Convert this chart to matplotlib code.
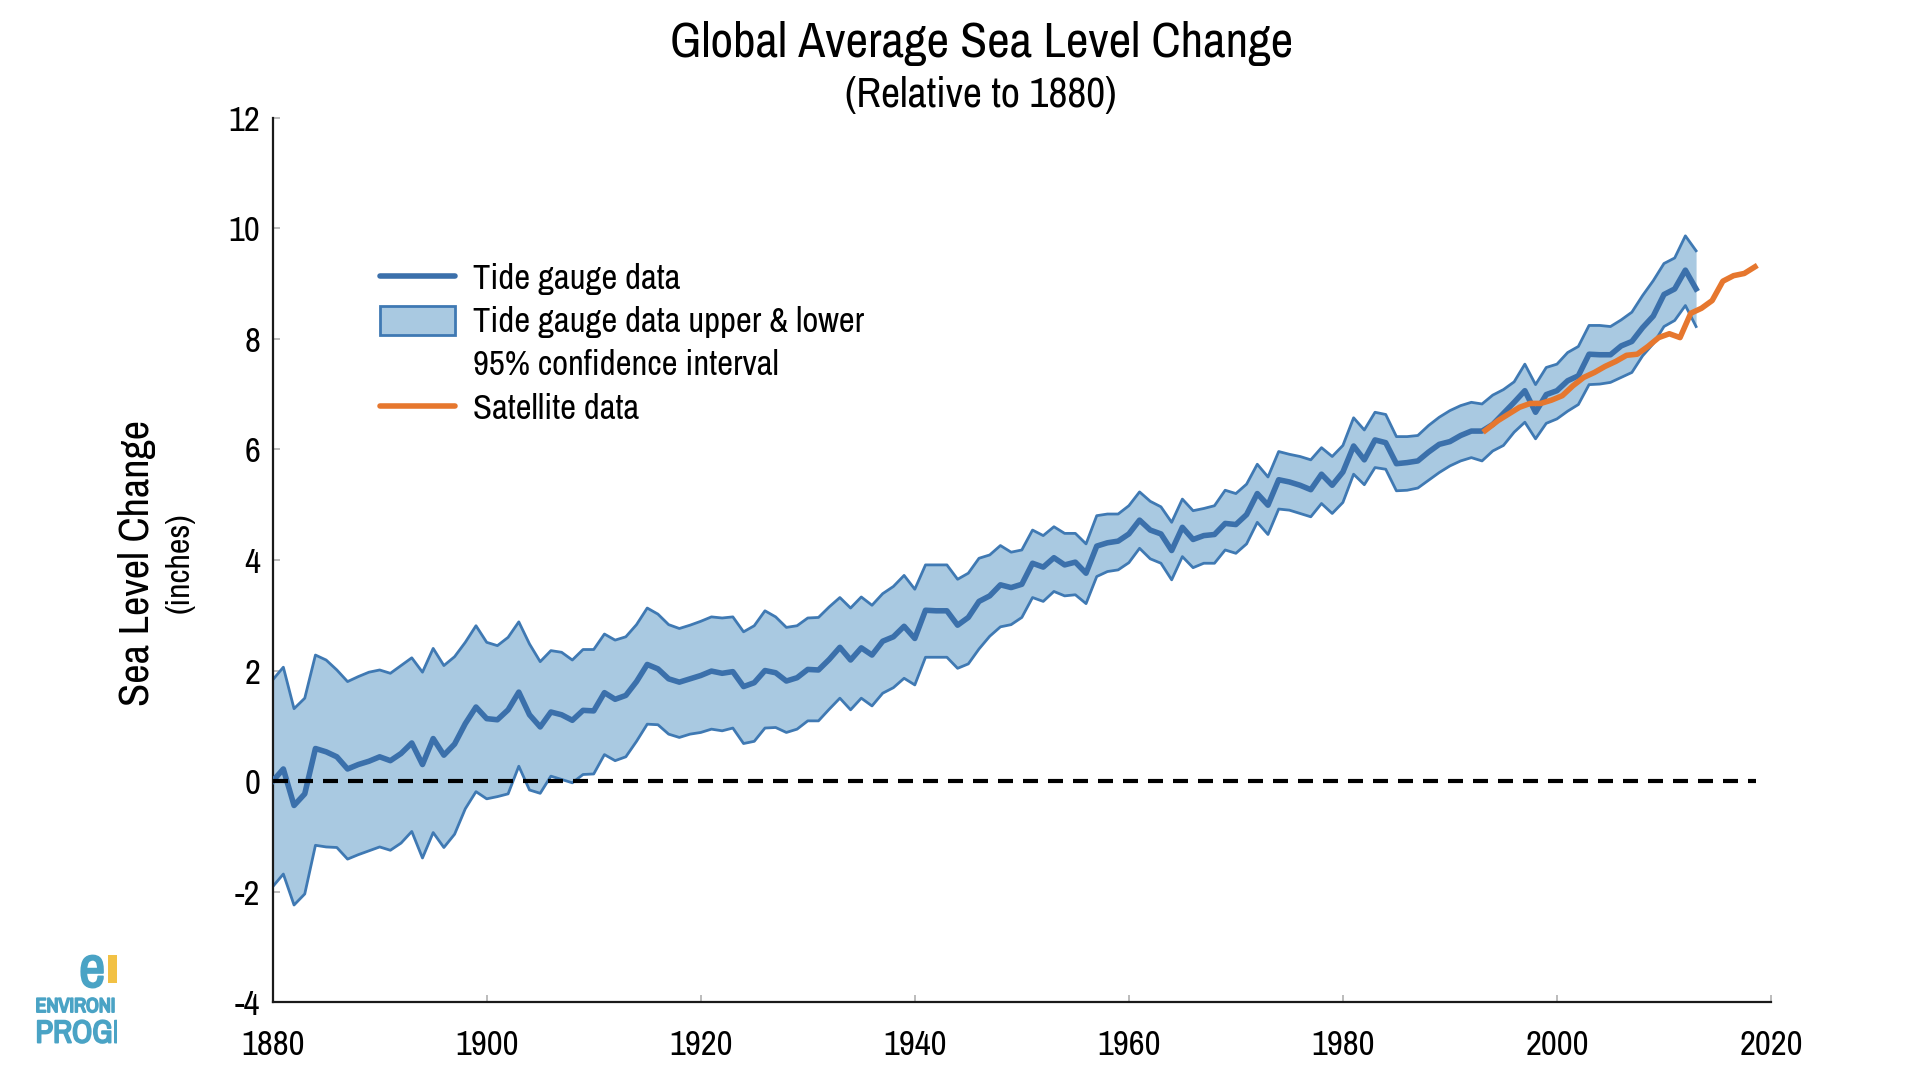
import numpy as np
import matplotlib
matplotlib.use("Agg")
import matplotlib.pyplot as plt
import matplotlib.patheffects as pe
from matplotlib import font_manager
from matplotlib.lines import Line2D
from matplotlib.patches import Patch, Rectangle
from matplotlib.transforms import Bbox, TransformedBbox

####
# tide gauge record, inches relative to 1880
tide_years = list(range(1880, 2014))
tide_level = [
    0.00, 0.22, -0.44, -0.23, 0.59, 0.53, 0.44, 0.22, 0.30, 0.36,
    0.44, 0.37, 0.50, 0.69, 0.30, 0.77, 0.47, 0.67, 1.04, 1.34,
    1.13, 1.11, 1.29, 1.61, 1.20, 0.98, 1.25, 1.20, 1.10, 1.28,
    1.27, 1.60, 1.48, 1.55, 1.80, 2.11, 2.03, 1.85, 1.79, 1.85,
    1.91, 1.99, 1.95, 1.98, 1.71, 1.78, 2.00, 1.96, 1.81, 1.87,
    2.02, 2.01, 2.20, 2.42, 2.19, 2.41, 2.28, 2.53, 2.61, 2.80,
    2.58, 3.09, 3.08, 3.08, 2.82, 2.96, 3.25, 3.35, 3.55, 3.50,
    3.56, 3.94, 3.87, 4.04, 3.91, 3.96, 3.76, 4.25, 4.31, 4.34,
    4.47, 4.72, 4.54, 4.47, 4.17, 4.59, 4.37, 4.44, 4.46, 4.66,
    4.64, 4.82, 5.20, 4.99, 5.45, 5.41, 5.35, 5.27, 5.55, 5.35,
    5.59, 6.06, 5.81, 6.17, 6.12, 5.74, 5.76, 5.79, 5.95, 6.09,
    6.14, 6.25, 6.33, 6.33, 6.45, 6.65, 6.85, 7.06, 6.67, 6.99,
    7.06, 7.24, 7.33, 7.72, 7.71, 7.71, 7.87, 7.95, 8.20, 8.41,
    8.80, 8.90, 9.24, 8.90]
tide_upper = [
    1.83, 2.06, 1.31, 1.50, 2.28, 2.19, 2.01, 1.80, 1.89, 1.97,
    2.01, 1.95, 2.09, 2.23, 1.97, 2.40, 2.09, 2.25, 2.51, 2.81,
    2.51, 2.45, 2.60, 2.88, 2.48, 2.16, 2.36, 2.33, 2.19, 2.38,
    2.38, 2.66, 2.55, 2.61, 2.83, 3.13, 3.02, 2.83, 2.76, 2.82,
    2.89, 2.97, 2.95, 2.97, 2.70, 2.81, 3.08, 2.97, 2.78, 2.81,
    2.95, 2.96, 3.15, 3.32, 3.13, 3.33, 3.18, 3.39, 3.52, 3.72,
    3.47, 3.91, 3.91, 3.91, 3.65, 3.76, 4.03, 4.09, 4.26, 4.14,
    4.18, 4.54, 4.44, 4.60, 4.48, 4.48, 4.29, 4.80, 4.83, 4.83,
    4.98, 5.23, 5.06, 4.96, 4.68, 5.10, 4.89, 4.93, 4.98, 5.26,
    5.20, 5.37, 5.73, 5.50, 5.96, 5.91, 5.87, 5.81, 6.03, 5.87,
    6.07, 6.57, 6.35, 6.67, 6.63, 6.23, 6.23, 6.25, 6.43, 6.58,
    6.70, 6.79, 6.85, 6.82, 6.98, 7.08, 7.22, 7.54, 7.17, 7.48,
    7.54, 7.75, 7.86, 8.24, 8.24, 8.22, 8.34, 8.48, 8.78, 9.05,
    9.36, 9.46, 9.86, 9.59]
tide_lower = [
    -1.91, -1.68, -2.24, -2.04, -1.16, -1.19, -1.20, -1.41, -1.33, -1.26,
    -1.19, -1.25, -1.12, -0.91, -1.39, -0.93, -1.20, -0.96, -0.50, -0.19,
    -0.32, -0.28, -0.23, 0.27, -0.16, -0.22, 0.09, 0.03, -0.03, 0.12,
    0.13, 0.48, 0.37, 0.44, 0.72, 1.03, 1.02, 0.85, 0.79, 0.85,
    0.88, 0.94, 0.91, 0.96, 0.68, 0.72, 0.96, 0.97, 0.88, 0.94,
    1.09, 1.09, 1.30, 1.50, 1.29, 1.50, 1.36, 1.59, 1.69, 1.86,
    1.74, 2.24, 2.24, 2.24, 2.04, 2.12, 2.39, 2.62, 2.79, 2.83,
    2.96, 3.32, 3.25, 3.43, 3.35, 3.37, 3.21, 3.70, 3.79, 3.82,
    3.95, 4.21, 4.02, 3.94, 3.64, 4.06, 3.86, 3.94, 3.94, 4.18,
    4.12, 4.29, 4.68, 4.46, 4.92, 4.90, 4.84, 4.78, 5.02, 4.84,
    5.04, 5.55, 5.36, 5.67, 5.64, 5.25, 5.26, 5.30, 5.44, 5.58,
    5.70, 5.79, 5.85, 5.79, 5.97, 6.07, 6.31, 6.49, 6.19, 6.47,
    6.55, 6.69, 6.81, 7.17, 7.18, 7.21, 7.30, 7.39, 7.69, 7.91,
    8.22, 8.33, 8.60, 8.22]

# satellite altimetry
sat_years = [1993.3, 1994.5, 1995.5, 1996.5, 1997.5, 1998.5, 1999.5, 2000.5,
             2001.5, 2002.5, 2003.5, 2004.5, 2005.5, 2006.5, 2007.5, 2008.5,
             2009.5, 2010.5, 2011.5, 2012.5, 2013.5, 2014.5, 2015.5, 2016.5,
             2017.5, 2018.5]
sat_level = [6.34, 6.52, 6.64, 6.76, 6.83, 6.83, 6.89, 6.97,
             7.15, 7.30, 7.39, 7.50, 7.59, 7.70, 7.72, 7.86,
             8.02, 8.09, 8.02, 8.46, 8.55, 8.69, 9.04, 9.14,
             9.18, 9.30]

zero_span = [1880, 2018.6]
x_ticks = [1880, 1900, 1920, 1940, 1960, 1980, 2000, 2020]
y_ticks = [-4, -2, 0, 2, 4, 6, 8, 10, 12]
####

# the original uses a narrow Arial-like face; use one if there is one
narrow = None
stretch = 'normal'
for f in font_manager.fontManager.ttflist:
    if 'Narrow' in f.name and f.weight in (400, 'normal', 'regular'):
        narrow = f.name
        break
if narrow is None:
    for f in font_manager.fontManager.ttflist:
        if f.stretch in ('condensed', 'semi-condensed') and 'Sans' in f.name:
            narrow = f.name
            stretch = 'condensed'
            break

if narrow is not None:
    plt.rcParams['font.family'] = [narrow, 'Liberation Sans', 'DejaVu Sans']
    plt.rcParams['font.stretch'] = stretch
    fs = dict(title=35.5, sub=30, ylab=30.5, unit=24.5, tick=25, legend=25, logo1=14.5, logo2=23)
else:
    plt.rcParams['font.family'] = ['Liberation Sans', 'DejaVu Sans']
    fs = dict(title=29, sub=25, ylab=25, unit=20, tick=21, legend=20.7, logo1=12, logo2=19)
plt.rcParams['axes.unicode_minus'] = False

blue = '#3b70ab'
band_edge = '#3f79b3'
band_fill = '#a9c9e1'
orange = '#e6772e'

fig = plt.figure(figsize=(19.2, 10.8), dpi=100)
ax = fig.add_axes([0.1420, 0.0719, 0.7804, 0.8193])

ax.fill_between(tide_years, tide_lower, tide_upper, color=band_fill, lw=0, zorder=1)
ax.plot(tide_years, tide_upper, color=band_edge, lw=2, zorder=2)
ax.plot(tide_years, tide_lower, color=band_edge, lw=2, zorder=2)
ax.plot(tide_years, tide_level, color=blue, lw=4, zorder=3)
ax.plot(sat_years, sat_level, color=orange, lw=4, zorder=4)
ax.hlines(0, zero_span[0], zero_span[1], colors='black', lw=3,
          linestyles=(0, (3.6, 2.4)), zorder=5)

ax.set_xlim(1880, 2020)
ax.set_ylim(-4, 12)
ax.set_xticks(x_ticks)
ax.set_yticks(y_ticks)
for s in ['top', 'right']:
    ax.spines[s].set_visible(False)
for s in ['left', 'bottom']:
    ax.spines[s].set_color('#1a1a1a')
    ax.spines[s].set_linewidth(1.6)
ax.tick_params(axis='both', direction='in', length=5, width=1.2, color='#b0b0b0',
               labelsize=fs['tick'], labelcolor='black')
ax.tick_params(axis='x', pad=19)
ax.tick_params(axis='y', pad=9)

fig.text(0.511, 0.960, 'Global Average Sea Level Change', ha='center', va='center', fontsize=fs['title'])
fig.text(0.511, 0.912, '(Relative to 1880)', ha='center', va='center', fontsize=fs['sub'])
fig.text(0.0715, 0.479, 'Sea Level Change', rotation=90, ha='center', va='center', fontsize=fs['ylab'])
fig.text(0.0935, 0.479, '(inches)', rotation=90, ha='center', va='center', fontsize=fs['unit'])

handles = [Line2D([], [], color=blue, lw=4, solid_capstyle='round'),
           Patch(facecolor=band_fill, edgecolor=band_edge, lw=2),
           Patch(facecolor='none', edgecolor='none'),
           Line2D([], [], color=orange, lw=4, solid_capstyle='round')]
labels = ['Tide gauge data', 'Tide gauge data upper & lower',
          '95% confidence interval', 'Satellite data']
lf = fs['legend']
top = (1080 - 280) / 1080 + lf / 0.72 / 2 / 1080
fig.legend(handles, labels, loc='upper left', bbox_to_anchor=(0.198, top),
           frameon=False, fontsize=lf, handlelength=54 / lf, handleheight=0.9,
           handletextpad=13 / lf, labelspacing=(32.8 - lf) / lf, borderpad=0, borderaxespad=0)

# logo in the bottom-left corner, cut off on its right side like the original
logo_blue = '#4aa3c5'
clip = TransformedBbox(Bbox([[0, 0], [117 / 1920, 0.2]]), fig.transFigure)
bold = [pe.withStroke(linewidth=1.3, foreground=logo_blue)]
fig.text(0.0480, 0.1015, 'e', color=logo_blue, fontsize=42, fontweight='bold',
         ha='center', va='center', path_effects=bold)
fig.patches.append(Rectangle((0.0563, 0.090), 0.0045, 0.026, transform=fig.transFigure,
                             facecolor='#f2c144', edgecolor='none'))
t1 = fig.text(0.0185, 0.068, 'ENVIRONI', color=logo_blue, fontsize=fs['logo1'],
              ha='left', va='center', path_effects=bold)
t2 = fig.text(0.0185, 0.043, 'PROGI', color=logo_blue, fontsize=fs['logo2'],
              ha='left', va='center', path_effects=bold)
for t in (t1, t2):
    t.set_clip_box(clip)
    t.set_clip_on(True)

fig.savefig('out.png', dpi=100)
